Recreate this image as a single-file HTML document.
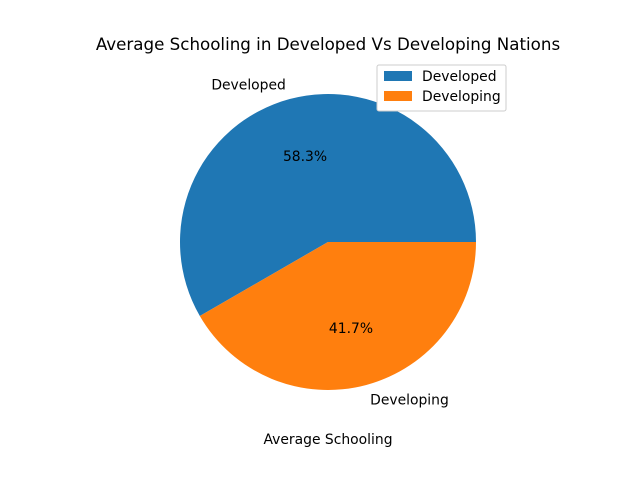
<!DOCTYPE html>
<html><head><meta charset="utf-8"><style>
body{margin:0;background:#fff}
svg{display:block;font-family:"DejaVu Sans","Liberation Sans",sans-serif}
</style></head><body>
<svg id="chart" width="640" height="480">
<rect width="640" height="480" fill="#fff"/>
<text x="328" y="50" font-size="16.7" text-anchor="middle">Average Schooling in Developed Vs Developing Nations</text>
<g id="slices"></g>
<text x="328" y="444" font-size="13.9" text-anchor="middle">Average Schooling</text>
<g>
<rect x="377" y="65" width="129" height="46" fill="#fff" stroke="#ccc" rx="2"/>
<g><rect x="384" y="71" width="28" height="10" fill="#1f77b4"/><text x="422" y="81" font-size="13.9">Developed</text></g>
<g><rect x="384" y="91" width="28" height="10" fill="#ff7f0e"/><text x="422" y="101" font-size="13.9">Developing</text></g>
</g>
</svg>
<script>
const categories=["Developed","Developing"];
const values=[14.0,10.0];
const colors=["#1f77b4","#ff7f0e"];
const cx=328,cy=242,r=148;
const g=document.getElementById('slices');
const NS="http://www.w3.org/2000/svg";
const total=values.reduce((a,b)=>a+b,0);
let a0=0;
values.forEach((v,i)=>{
  const a1=a0+v/total*2*Math.PI;
  const x0=cx+r*Math.cos(a0),y0=cy-r*Math.sin(a0),x1=cx+r*Math.cos(a1),y1=cy-r*Math.sin(a1);
  const large=(a1-a0)>Math.PI?1:0;
  const p=document.createElementNS(NS,'path');
  p.setAttribute('d',`M${cx},${cy}L${x0},${y0}A${r},${r} 0 ${large} 0 ${x1},${y1}Z`);
  p.setAttribute('fill',colors[i]);
  
  
  g.appendChild(p);
  const m=(a0+a1)/2;
  const lt=document.createElementNS(NS,'text');
  const lx=cx+1.1*r*Math.cos(m),ly=cy-1.1*r*Math.sin(m);
  lt.setAttribute('x',lx);lt.setAttribute('y',ly+5);
  lt.setAttribute('font-size','13.9');
  lt.setAttribute('text-anchor',Math.cos(m)<0?'end':'start');
  lt.textContent=categories[i];
  
  
  g.appendChild(lt);
  const pt=document.createElementNS(NS,'text');
  pt.setAttribute('x',cx+0.6*r*Math.cos(m));pt.setAttribute('y',cy-0.6*r*Math.sin(m)+5);
  pt.setAttribute('font-size','13.9');pt.setAttribute('text-anchor','middle');
  pt.textContent=(v/total*100).toFixed(1)+'%';
  
  
  g.appendChild(pt);
  a0=a1;
});
</script>
</body></html>
